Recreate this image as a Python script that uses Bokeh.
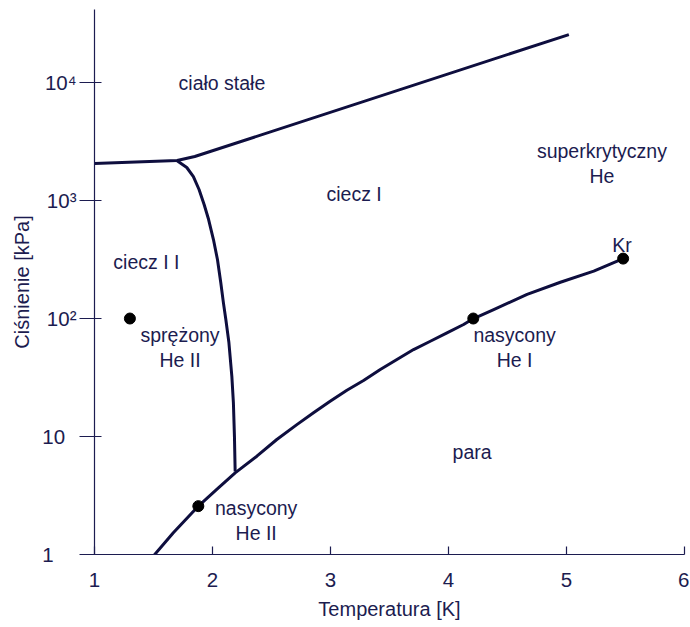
from bokeh.plotting import figure
from bokeh.models import FixedTicker
from bokeh.embed import file_html
from bokeh.resources import INLINE
from bokeh.core.properties import value

# melting curve (solid / liquid)
melt_T = [1.00, 1.70, 1.85, 5.02]
melt_P = [2060, 2183, 2360, 25500]
# lambda line (He I / He II)
lambda_T = [1.697, 1.782, 1.838, 1.886, 1.929, 1.967, 2.008, 2.042, 2.070, 2.092,
            2.113, 2.139, 2.164, 2.177, 2.186, 2.192]
lambda_P = [2183, 1905, 1597, 1240, 925, 690, 467, 316, 202, 137,
            98, 62.6, 32.3, 19.4, 10.0, 5.05]
# saturated vapour curve
vap_T = [1.499, 1.668, 1.880, 2.036, 2.192, 2.376, 2.545, 2.715, 2.856, 2.997, 3.139,
         3.280, 3.422, 3.563, 3.704, 3.846, 3.987, 4.128, 4.208, 4.383, 4.666, 4.948,
         5.231, 5.480]
vap_P = [0.97, 1.53, 2.57, 3.56, 4.92, 6.81, 9.43, 12.6, 15.9, 19.9, 24.7,
         29.8, 37.0, 45.0, 54.6, 64.2, 75.7, 89.0, 99.4, 119, 160, 203,
         252, 322]
# marked points
pt_T = [1.30, 1.88, 4.21, 5.48]
pt_P = [100, 2.57, 100, 322]
# region labels
lab_text = ["ciało stałe", "ciecz I", "ciecz I I", "sprężony\nHe II", "nasycony\nHe II",
            "nasycony\nHe I", "para", "superkrytyczny\nHe", "Kr"]
lab_T = [2.08, 3.20, 1.44, 1.725, 2.37, 4.56, 4.20, 5.30, 5.47]
lab_P = [10000, 1146, 304, 56.8, 1.94, 56.8, 7.46, 2060, 424]
# ticks
x_ticks = [1, 2, 3, 4, 5, 6]
y_ticks = [1, 10, 100, 1000, 10000]
y_tick_labels = ["1\u2007\u2007", "10\u2007", "10²", "10³", "10⁴"]

NAVY = "#1c1c50"
LINE = "#0e0e3e"
FONT = "Liberation Sans"

p = figure(width=689, height=624, x_range=(1, 6), y_range=(1, 41600),
           y_axis_type="log", output_backend="svg", toolbar_location=None,
           min_border_left=94, min_border_right=5, min_border_top=9, min_border_bottom=70)
p.outline_line_color = None
p.xgrid.grid_line_color = None
p.ygrid.grid_line_color = None

p.line(melt_T, melt_P, line_width=3, line_color=LINE, line_join="round")
p.line(lambda_T, lambda_P, line_width=3, line_color=LINE, line_join="round")
p.line(vap_T, vap_P, line_width=3, line_color=LINE, line_join="round")
p.scatter(pt_T, pt_P, size=11, color="black")
p.text(lab_T, lab_P, text=lab_text, text_align="center", text_baseline="middle",
       text_font=value(FONT), text_font_size="19.5px", text_color=NAVY, text_line_height=1.15)

for ax in (p.xaxis[0], p.yaxis[0]):
    ax.axis_line_color = NAVY
    ax.axis_line_width = 1.2
    ax.major_tick_line_color = NAVY
    ax.major_tick_line_width = 1.2
    ax.minor_tick_line_color = None
    ax.major_label_text_font = FONT
    ax.major_label_text_font_size = "20.5px"
    ax.major_label_text_color = NAVY
    ax.axis_label_text_font = FONT
    ax.axis_label_text_font_size = "20px"
    ax.axis_label_text_font_style = "normal"
    ax.axis_label_text_color = NAVY

p.xaxis.ticker = FixedTicker(ticks=x_ticks)
p.xaxis.major_tick_in = 8
p.xaxis.major_tick_out = 0
p.xaxis.major_label_standoff = 18
p.xaxis.axis_label = "Temperatura [K]"
p.xaxis.axis_label_standoff = 8

p.yaxis.ticker = FixedTicker(ticks=y_ticks, minor_ticks=[])
p.yaxis.major_label_overrides = {t: s for t, s in zip(y_ticks, y_tick_labels)}
p.yaxis.major_tick_in = 7
p.yaxis.major_tick_out = 15
p.yaxis.major_label_standoff = 3
p.yaxis.axis_label = "Ciśnienie [kPa]"
p.yaxis.axis_label_standoff = 6

open("out.html", "w").write(file_html(p, INLINE))
